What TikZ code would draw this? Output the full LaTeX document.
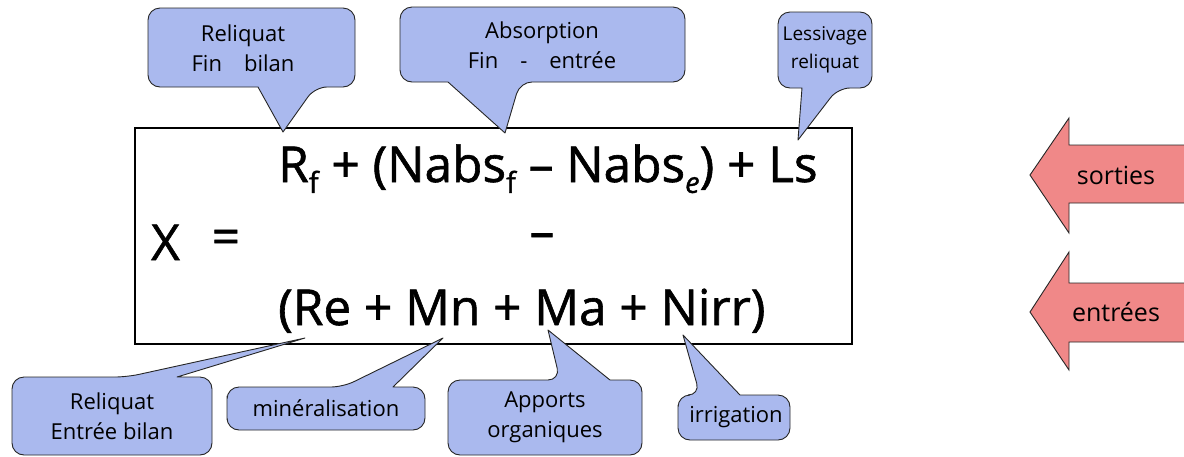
\documentclass[tikz,border=0pt]{standalone}
\usepackage{fontspec}
\setmainfont{Open Sans}
\newfontfamily\formfont[FakeBold=1.2]{Open Sans}
\definecolor{cblue}{HTML}{AAB9EE}
\definecolor{cred}{HTML}{F08888}
\newcommand\subs[1]{\raisebox{-0.22em}{\fontsize{29}{29}\selectfont #1}}
\tikzset{
  bubble/.style={fill=cblue, draw=black!85, line width=0.9pt, line join=round},
  btext/.style={font=\fontsize{22}{30}\selectfont, align=center, inner sep=0pt},
  formula/.style={font=\formfont\fontsize{49.5}{49.5}\selectfont, anchor=base west, inner sep=0pt},
  flow/.style={fill=cred, draw=black!85, line width=0.9pt, line join=miter},
  ftext/.style={font=\fontsize{25}{25}\selectfont, inner sep=0pt},
  mainbox/.style={draw=black, line width=2.6pt, inner sep=0pt, minimum width=717pt, minimum height=216pt}
}
\begin{document}
\begin{tikzpicture}[x=1pt,y=-1pt]
\useasboundingbox (0,0) rectangle (1184,456);

% main box and formula
\node[mainbox] (box) at (493.5,236) {};
\node[formula] (l1) at (278,182) {R\subs{f} + (Nabs\subs{f} – Nabs\subs{\itshape e}) + Ls};
\node[formula] (xx) at (151,260) {X};
\node[formula, anchor=center] (eq) at (226,242) {=};
\node[formula, anchor=center] (mid) at (542,241) {–};
\node[formula] (l3) at (278,325) {(Re + Mn + Ma + Nirr)};

% top callouts
\coordinate (t1) at (283,132);
\draw[bubble] (148,48) [rounded corners=12pt] -- (148,8) -- (355,8) -- (355,87) -- (315,87) [sharp corners] -- (t1) -- (258,87) [rounded corners=12pt] -- (148,87) -- cycle;
\node[btext] (c1) at (243,48) {Reliquat\\Fin\quad bilan};

\coordinate (t2) at (505,133);
\draw[bubble] (400,45) [rounded corners=12pt] -- (400,7) -- (685,7) -- (685,82) -- (520,82) [sharp corners] -- (t2) -- (448,82) [rounded corners=12pt] -- (400,82) -- cycle;
\node[btext] (c2) at (542,45) {Absorption\\Fin\quad -\quad entrée};

\coordinate (t3) at (798,140);
\draw[bubble] (778,50) [rounded corners=12pt] -- (778,12) -- (872,12) -- (872,88) -- (838,88) [sharp corners] -- (t3) -- (802,88) [rounded corners=12pt] -- (778,88) -- cycle;
\node[btext, font=\fontsize{19}{28}\selectfont] (c3) at (825,50) {Lessivage\\reliquat};

% bottom callouts
\coordinate (t4) at (305,338);
\draw[bubble] (12,416) [rounded corners=12pt] -- (12,377) -- (127,377) [sharp corners] -- (t4) -- (177,377) [rounded corners=12pt] -- (212,377) -- (212,455) -- (12,455) -- cycle;
\node[btext] (c4) at (112,416) {Reliquat\\Entrée bilan};

\coordinate (t5) at (443,338);
\draw[bubble] (227,408) [rounded corners=12pt] -- (227,387) -- (343,387) [sharp corners] -- (t5) -- (393,387) [rounded corners=12pt] -- (425,387) -- (425,430) -- (227,430) -- cycle;
\node[btext] (c5) at (326,408) {minéralisation};

\coordinate (t6) at (548,330);
\draw[bubble] (448,417) [rounded corners=12pt] -- (448,380) -- (560,380) [sharp corners] -- (t6) -- (610,380) [rounded corners=12pt] -- (642,380) -- (642,455) -- (448,455) -- cycle;
\node[btext] (c6) at (545,417) {Apports\\organiques};

\coordinate (t7) at (683,335);
\draw[bubble] (678,417) [rounded corners=12pt] -- (678,395) -- (700,395) [sharp corners] -- (t7) -- (740,395) [rounded corners=12pt] -- (790,395) -- (790,440) -- (678,440) -- cycle;
\node[btext] (c7) at (736,417) {irrigation};

% flow arrows
\draw[flow] (1030,175) -- (1069,118) -- (1069,145) -- (1192,145) -- (1192,203) -- (1069,203) -- (1069,233) -- cycle;
\node[ftext] (so) at (1116,175) {sorties};
\draw[flow] (1030,312) -- (1069,252) -- (1069,283) -- (1192,283) -- (1192,342) -- (1069,342) -- (1069,370) -- cycle;
\node[ftext] (en) at (1116,312) {entrées};
\end{tikzpicture}
\end{document}
